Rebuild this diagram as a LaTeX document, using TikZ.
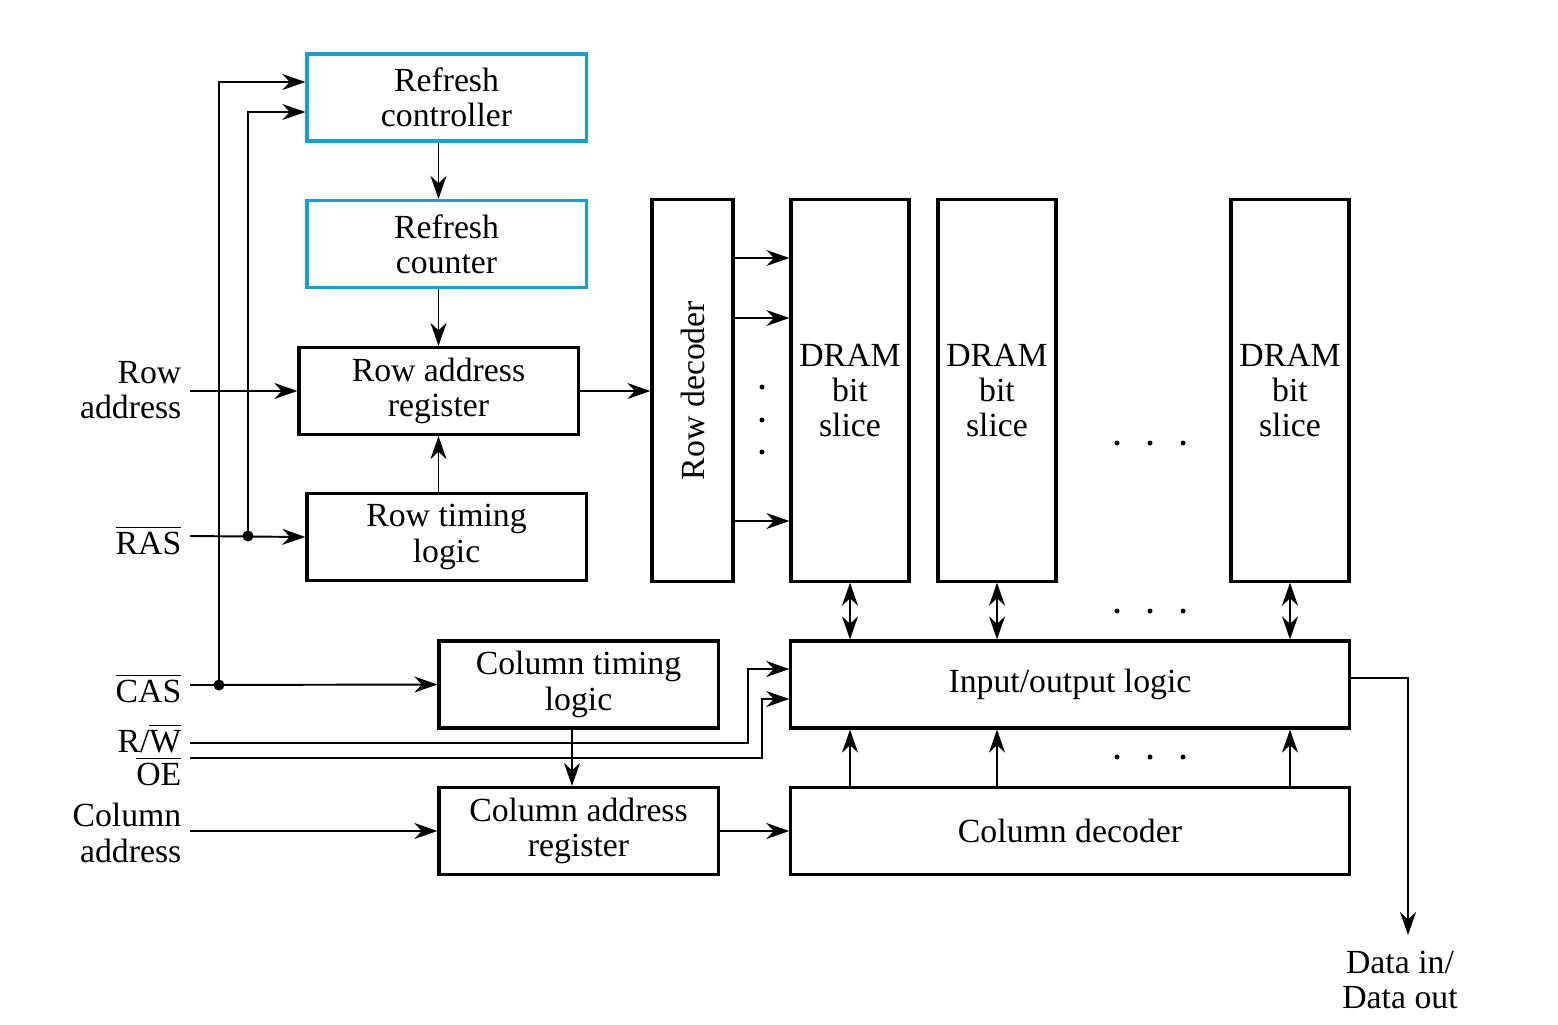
\documentclass[tikz,border=0pt]{standalone}
\usepackage{fontspec}
\setmainfont{Liberation Serif}
\usetikzlibrary{arrows.meta}

\definecolor{refblue}{RGB}{22,160,208}

\tikzset{
  blk/.style={draw, line width=0.9pt, align=center, inner sep=0pt},
  rblk/.style={blk, draw=refblue},
  wide/.style={minimum width=2.79cm, minimum height=0.87cm},
  slice/.style={blk, minimum width=1.18cm, minimum height=3.81cm},
  wire/.style={line width=0.55pt},
  arr/.style={wire, -{Stealth[length=2.3mm,width=1.6mm]}},
  dbl/.style={wire, {Stealth[length=2.3mm,width=1.6mm]}-{Stealth[length=2.3mm,width=1.6mm]}},
  lbl/.style={align=right, anchor=east, inner sep=0pt},
}

\begin{document}
\begin{tikzpicture}[x=0.01cm, y=-0.01cm, font=\fontsize{9.6}{10}\selectfont]

\useasboundingbox (0,0) rectangle (1558,1024);

% refresh and row side
\node[rblk, wide] (rc) at (446.5,97.5) {Refresh\\controller};
\node[rblk, wide] (rcnt) at (446.5,244) {Refresh\\counter};
\node[blk, wide] (rar) at (438.5,391) {Row address\\register};
\node[blk, wide] (rtl) at (446.5,537) {Row timing\\logic};
\node[blk, minimum width=0.81cm, minimum height=3.81cm] (rd) at (692.5,390.5) {\rotatebox{90}{Row decoder}};

% memory array
\node[slice] (s1) at (850,390.5) {DRAM\\bit\\slice};
\node[slice] (s2) at (997,390.5) {DRAM\\bit\\slice};
\node[slice] (s3) at (1290,390.5) {DRAM\\bit\\slice};
\node[blk, minimum width=5.58cm, minimum height=0.87cm] (io) at (1070,684.5) {Input/output logic};
\node[blk, minimum width=5.58cm, minimum height=0.87cm] (cd) at (1070,831) {Column decoder};

% column side
\node[blk, wide] (ctl) at (578.5,684.5) {Column timing\\logic};
\node[blk, wide] (car) at (578.5,831) {Column address\\register};

% inputs
\node[lbl] (rowaddr) at (182,390) {Row\\address};
\node[lbl] (ras) at (182,540) {$\overline{\mbox{RAS}}$};
\node[lbl] (cas) at (182,688) {$\overline{\mbox{CAS}}$};
\node[lbl] (rw) at (182,738) {R/$\overline{\mbox{W}}$};
\node[lbl] (oe) at (182,771) {$\overline{\mbox{OE}}$};
\node[lbl] (coladdr) at (182,833) {Column\\address};
\node[align=center, inner sep=0pt] (data) at (1400,980) {Data in/\\Data out};

\coordinate (rowin) at (190,391);
\coordinate (rasin) at (190,536);
\coordinate (casin) at (190,685);
\coordinate (rwin) at (190,743);
\coordinate (oein) at (190,758);
\coordinate (colin) at (190,831);
\coordinate (rasj) at (248,536);
\coordinate (casj) at (219,685);
\coordinate (rwbend) at (748,743);
\coordinate (oebend) at (762,758);
\coordinate (dout) at (1408,935);

% control wires
\draw[arr] (casin) -- (ctl.west);
\draw[arr] (casj) |- ([yshift=0.155cm]rc.west);
\draw[arr] (rasin) -- (rtl.west);
\draw[arr] (rasj) |- ([yshift=-0.145cm]rc.west);
\fill (rasj) circle (0.055cm);
\fill (casj) circle (0.055cm);
\draw[arr] (rowin) -- (rar.west);
\draw[arr] (colin) -- (car.west);
\draw[arr] (rwin) -- (rwbend) |- ([yshift=0.155cm]io.west);
\draw[arr] (oein) -- (oebend) |- ([yshift=-0.145cm]io.west);

% internal paths
\draw[arr] (rar.north |- rc.south) -- (rar.north |- rcnt.north);
\draw[arr] (rar.north |- rcnt.south) -- (rar.north);
\draw[arr] (rar.south |- rtl.north) -- (rar.south);
\draw[arr] (rar.east) -- (rar.east -| rd.west);
\foreach \y in {258,318,521}
  \draw[arr] (rd.east |- 0,\y) -- (s1.west |- 0,\y);
\foreach \y in {387,420,452}
  \fill (762,\y) circle (0.025cm);
\draw[arr] ([xshift=-0.065cm]ctl.south) -- ([xshift=-0.065cm]car.north);
\draw[arr] (car.east) -- (cd.west);
\foreach \s in {s1,s2,s3} {
  \draw[dbl] (\s.south) -- (\s.south |- io.north);
  \draw[arr] (\s.south |- cd.north) -- (\s.south |- io.south);
}
\foreach \y in {443,611,757}
  \foreach \x in {1117,1150,1183}
    \fill (\x,\y) circle (0.025cm);
\draw[arr] ([yshift=0.065cm]io.east) -| (dout);

\end{tikzpicture}
\end{document}
